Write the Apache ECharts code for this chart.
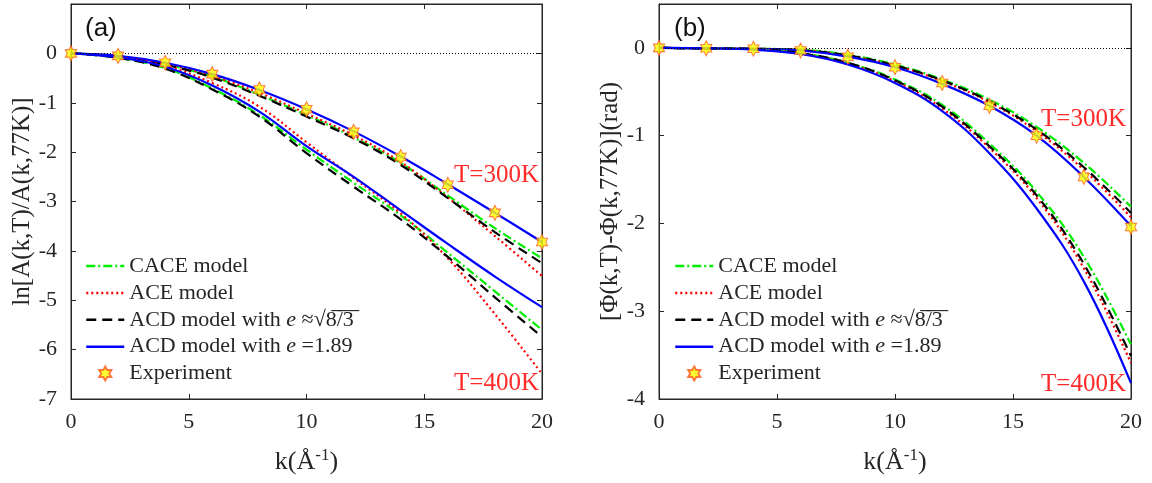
<!DOCTYPE html>
<html>
<head>
<meta charset="utf-8">
<script src="https://cdn.jsdelivr.net/npm/echarts@6/dist/echarts.min.js"></script>
<style>
    html, body { margin: 0; padding: 0; background: #fff; }
    #main { width: 1152px; height: 483px; }
</style>
</head>
<body>
<div id="main"></div>
<script>
// k 取样点 (Å^-1)
const kVals = [0, 2, 4, 6, 8, 10, 12, 14, 16, 18, 20];

// (a) ln[A(k,T)/A(k,77K)]  T=300K
const a300Exp   = [0, -0.05, -0.19, -0.42, -0.73, -1.13, -1.59, -2.10, -2.66, -3.23, -3.82];
const a300Cace  = [0, -0.06, -0.22, -0.47, -0.84, -1.25, -1.70, -2.22, -2.88, -3.54, -4.15];
const a300Ace   = [0, -0.06, -0.21, -0.46, -0.80, -1.22, -1.66, -2.20, -2.92, -3.70, -4.51];
const a300Acd1  = [0, -0.06, -0.23, -0.49, -0.86, -1.28, -1.72, -2.26, -2.93, -3.62, -4.25];
const a300Acd2  = [0, -0.05, -0.19, -0.42, -0.74, -1.13, -1.58, -2.09, -2.65, -3.23, -3.82];
// (a) T=400K
const a400Cace  = [0, -0.09, -0.30, -0.71, -1.25, -1.95, -2.62, -3.28, -4.04, -4.82, -5.60];
const a400Ace   = [0, -0.08, -0.25, -0.60, -1.08, -1.80, -2.52, -3.24, -4.15, -5.28, -6.49];
const a400Acd1  = [0, -0.09, -0.31, -0.73, -1.28, -2.02, -2.70, -3.36, -4.12, -4.94, -5.74];
const a400Acd2  = [0, -0.08, -0.27, -0.65, -1.18, -1.88, -2.50, -3.18, -3.86, -4.52, -5.14];

// (b) Φ(k,T)-Φ(k,77K) (rad)  T=300K
const b300Exp   = [0, -0.005, -0.01, -0.03, -0.10, -0.22, -0.40, -0.66, -1.00, -1.47, -2.04];
const b300Cace  = [0, -0.005, -0.01, -0.02, -0.08, -0.19, -0.36, -0.59, -0.90, -1.31, -1.81];
const b300Ace   = [0, -0.005, -0.01, -0.025, -0.09, -0.20, -0.38, -0.62, -0.95, -1.39, -1.93];
const b300Acd1  = [0, -0.005, -0.01, -0.025, -0.085, -0.20, -0.37, -0.61, -0.93, -1.36, -1.88];
const b300Acd2  = [0, -0.005, -0.01, -0.03, -0.10, -0.22, -0.41, -0.66, -1.00, -1.47, -2.03];
// (b) T=400K
const b400Cace  = [0, -0.005, -0.015, -0.06, -0.17, -0.36, -0.65, -1.09, -1.64, -2.38, -3.38];
const b400Ace   = [0, -0.005, -0.015, -0.065, -0.18, -0.38, -0.69, -1.14, -1.71, -2.51, -3.59];
const b400Acd1  = [0, -0.005, -0.015, -0.06, -0.17, -0.37, -0.67, -1.12, -1.68, -2.46, -3.51];
const b400Acd2  = [0, -0.005, -0.02, -0.07, -0.19, -0.40, -0.72, -1.20, -1.83, -2.66, -3.82];

// 坐标轴刻度
const xTicks = [0, 5, 10, 15, 20];
const aYTicks = [-7, -6, -5, -4, -3, -2, -1, 0];
const bYTicks = [-4, -3, -2, -1, 0];

const N_CACE = 'CACE model';
const N_ACE = 'ACE model';
const N_ACD1 = 'ACD model with e≈√(8/3)';
const N_ACD2 = 'ACD model with e=1.89';
const N_EXP = 'Experiment';

const SERIF = '"Liberation Serif", "Times New Roman", serif';
const AXIS_COLOR = '#262626';
// 六角星
const HEXAGRAM = 'path://M50,0 L64.4,25 L93.3,25 L78.9,50 L93.3,75 L64.4,75 L50,100 L35.6,75 L6.7,75 L21.1,50 L6.7,25 L35.6,25 Z';

function pairs(vs) {
    return kVals.map(function (k, i) { return [k, vs[i]]; });
}

// 模型样式
const styles = {};
styles[N_CACE] = { color: '#00ee00', type: [9, 3, 2, 3] };
styles[N_ACE]  = { color: '#ff0000', type: [2, 3] };
styles[N_ACD1] = { color: '#000000', type: [10, 6] };
styles[N_ACD2] = { color: '#0000ff', type: 'solid' };

function lineSeries(name, vs, grid) {
    let s = styles[name];
    return {
        name: name,
        type: 'line',
        xAxisIndex: grid * 2,
        yAxisIndex: grid * 2,
        data: pairs(vs),
        smooth: 0.4,
        symbol: 'none',
        lineStyle: { color: s.color, width: 2.2, type: s.type },
        itemStyle: { color: s.color },
        z: 3
    };
}

function expSeries(vs, grid) {
    return {
        name: N_EXP,
        type: 'scatter',
        xAxisIndex: grid * 2,
        yAxisIndex: grid * 2,
        data: pairs(vs),
        symbol: HEXAGRAM,
        symbolSize: [13, 15],
        symbolKeepAspect: true,
        itemStyle: { color: '#ffff00', borderColor: '#ff5a1f', borderWidth: 1 },
        z: 5,
        markLine: {
            silent: true,
            symbol: 'none',
            label: { show: false },
            lineStyle: { color: '#000', width: 1, type: [1, 2] },
            data: [{ yAxis: 0 }]
        }
    };
}

function xAxes(grid) {
    let base = {
        gridIndex: grid, type: 'value', min: 0, max: 20, interval: 5,
        axisLine: { onZero: false, lineStyle: { color: AXIS_COLOR, width: 1 } },
        axisTick: { inside: true, length: 5, lineStyle: { color: AXIS_COLOR } },
        splitLine: { show: false }
    };
    let bottom = Object.assign({}, base, {
        position: 'bottom',
        axisLabel: { color: AXIS_COLOR, fontFamily: SERIF, fontSize: 22, margin: 12,
            formatter: function (v) { return xTicks.indexOf(v) >= 0 ? String(v) : ''; } },
        name: 'k(Å{sup|-1})',
        nameLocation: 'middle',
        nameGap: 48,
        nameTextStyle: { color: AXIS_COLOR, fontFamily: SERIF, fontSize: 26,
            rich: { sup: { fontFamily: SERIF, fontSize: 17, color: AXIS_COLOR, padding: [0, 0, 14, 0] } } }
    });
    let top = Object.assign({}, base, { position: 'top', axisLabel: { show: false } });
    return [bottom, top];
}

function yAxes(grid, min, max, ticks, title) {
    let base = {
        gridIndex: grid, type: 'value', min: min, max: max, interval: 1,
        axisLine: { onZero: false, lineStyle: { color: AXIS_COLOR, width: 1 } },
        axisTick: { inside: true, length: 5, lineStyle: { color: AXIS_COLOR } },
        splitLine: { show: false }
    };
    let left = Object.assign({}, base, {
        position: 'left',
        axisLabel: { color: AXIS_COLOR, fontFamily: SERIF, fontSize: 22, margin: 14,
            showMaxLabel: false,
            formatter: function (v) { return ticks.indexOf(v) >= 0 ? String(v) : ''; } },
        name: title,
        nameLocation: 'middle',
        nameGap: 36,
        nameTextStyle: { color: AXIS_COLOR, fontFamily: SERIF, fontSize: 25 }
    });
    let right = Object.assign({}, base, { position: 'right', axisLabel: { show: false } });
    return [left, right];
}

function legendFor(left) {
    // 线型图例不画圆点
    let lineItem = function (n) { return { name: n, itemStyle: { opacity: 0 } }; };
    return {
        orient: 'vertical',
        left: left,
        top: 250,
        itemWidth: 38,
        itemHeight: 14,
        itemGap: 4.9,
        lineStyle: { width: 2.5 },
        data: [lineItem(N_CACE), lineItem(N_ACE), lineItem(N_ACD1), lineItem(N_ACD2), { name: N_EXP }],
        textStyle: {
            color: AXIS_COLOR, fontFamily: SERIF, fontSize: 22, lineHeight: 20,
            rich: { it: { fontFamily: SERIF, fontSize: 22, fontStyle: 'italic', color: AXIS_COLOR } }
        },
        formatter: function (name) {
            if (name === N_ACD1) return 'ACD model with {it|e} ≈√8\u0305/\u03053\u0305';
            if (name === N_ACD2) return 'ACD model with {it|e} =1.89';
            return name;
        }
    };
}

function label(x, y, text, color, font, align) {
    return {
        type: 'text', x: x, y: y, z: 10,
        style: { text: text, fill: color, font: font, align: align, verticalAlign: 'middle' }
    };
}

let myChart = echarts.init(document.getElementById('main'), null, { renderer: 'canvas' });

let option = {
    animation: false,
    backgroundColor: '#fff',
    grid: [
        { left: 71, right: 610, top: 4, bottom: 84, show: true, borderColor: AXIS_COLOR, borderWidth: 1,
          containLabel: false, outerBoundsMode: 'none' },
        { left: 659, right: 21, top: 4, bottom: 84, show: true, borderColor: AXIS_COLOR, borderWidth: 1,
          containLabel: false, outerBoundsMode: 'none' }
    ],
    xAxis: xAxes(0).concat(xAxes(1)),
    yAxis: yAxes(0, -7, 1, aYTicks, 'ln[A(k,T)/A(k,77K)]')
        .concat(yAxes(1, -4, 0.5, bYTicks, '[Φ(k,T)-Φ(k,77K)](rad)')),
    legend: [legendFor(80), legendFor(669)],
    graphic: [
        label(85, 29, '(a)', '#111', '26px "Liberation Sans", Arial, sans-serif', 'left'),
        label(674, 29, '(b)', '#111', '26px "Liberation Sans", Arial, sans-serif', 'left'),
        label(539, 175, 'T=300K', '#ff2a2a', '25px ' + SERIF, 'right'),
        label(539, 383, 'T=400K', '#ff2a2a', '25px ' + SERIF, 'right'),
        label(1126, 119, 'T=300K', '#ff2a2a', '25px ' + SERIF, 'right'),
        label(1126, 384, 'T=400K', '#ff2a2a', '25px ' + SERIF, 'right')
    ],
    series: [
        lineSeries(N_CACE, a300Cace, 0),
        lineSeries(N_ACE, a300Ace, 0),
        lineSeries(N_ACD1, a300Acd1, 0),
        lineSeries(N_ACD2, a300Acd2, 0),
        lineSeries(N_CACE, a400Cace, 0),
        lineSeries(N_ACE, a400Ace, 0),
        lineSeries(N_ACD1, a400Acd1, 0),
        lineSeries(N_ACD2, a400Acd2, 0),
        expSeries(a300Exp, 0),
        lineSeries(N_CACE, b300Cace, 1),
        lineSeries(N_ACE, b300Ace, 1),
        lineSeries(N_ACD1, b300Acd1, 1),
        lineSeries(N_ACD2, b300Acd2, 1),
        lineSeries(N_CACE, b400Cace, 1),
        lineSeries(N_ACE, b400Ace, 1),
        lineSeries(N_ACD1, b400Acd1, 1),
        lineSeries(N_ACD2, b400Acd2, 1),
        expSeries(b300Exp, 1)
    ]
};
myChart.setOption(option);
</script>
</body>
</html>
